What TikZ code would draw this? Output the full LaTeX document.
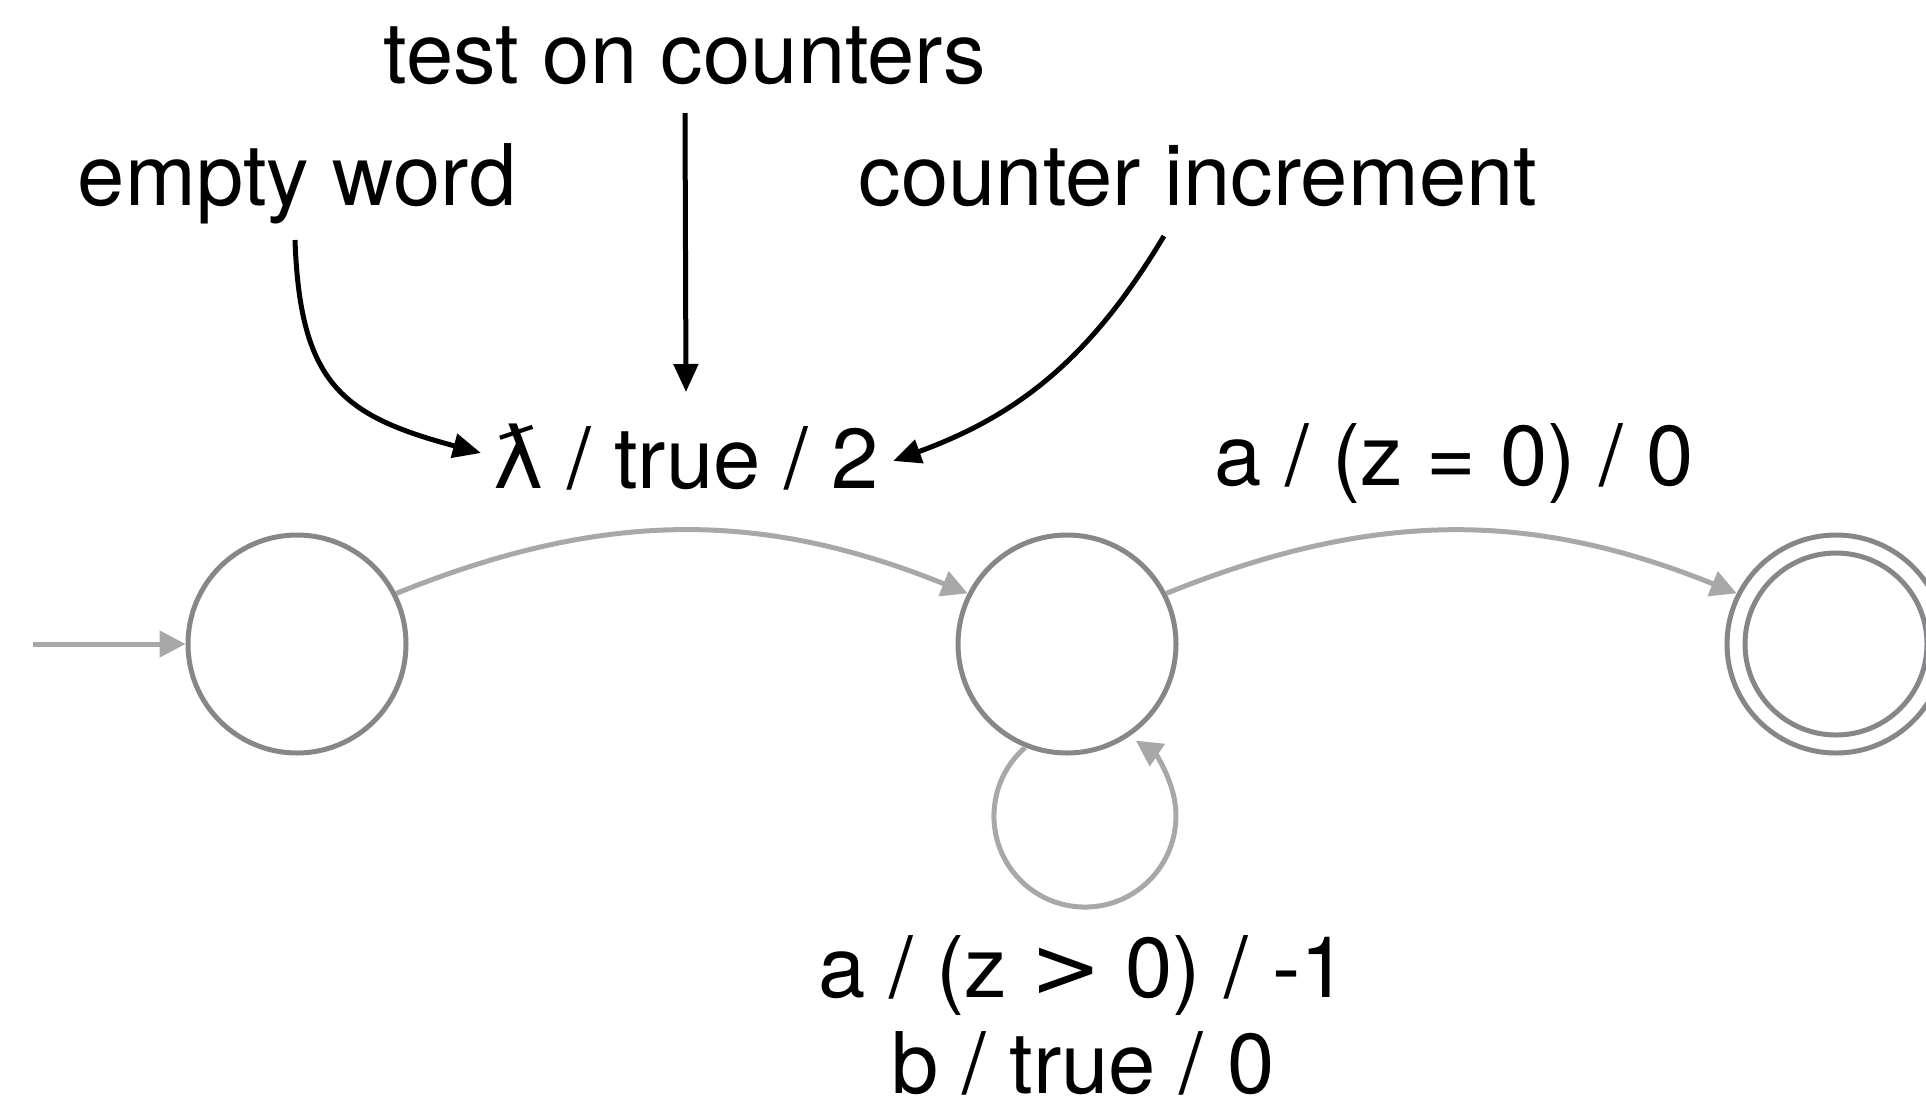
\documentclass[tikz,border=0pt]{standalone}
\usepackage{fontspec}
\setmainfont{TeX Gyre Heros}
\newfontfamily\lamfont{DejaVu Sans}
\usetikzlibrary{arrows.meta}
\definecolor{stategray}{HTML}{85878B}
\definecolor{edgegray}{HTML}{A6A9A7}
\tikzset{
  state/.style={circle, draw=stategray, line width=5pt, minimum size=218pt, inner sep=0pt},
  edge/.style={draw=edgegray, line width=5pt, -{Triangle[length=26pt,width=26pt]}},
  note/.style={draw=black, line width=5pt, -{Triangle[length=28pt,width=24pt]}},
  lbl/.style={inner sep=0pt, anchor=base}
}
\begin{document}
\begin{tikzpicture}[x=1pt,y=1pt,font=\fontsize{85}{96}\selectfont]
\useasboundingbox (0,0) rectangle (1926,-1112);
% states
\node[state] (s1) at (297,-644) {};
\node[state] (s2) at (1067,-644) {};
\node[state] (s3) at (1836,-644) {};
\draw[stategray, line width=5pt] (s3.center) circle[radius=91];
% transitions
\coordinate (init) at (33,-644);
\draw[edge] (init) -- (s1);
\draw[edge] (s1.27) to[out=22,in=158] (s2.153);
\draw[edge] (s2.27) to[out=22,in=158] (s3.153);
\draw[edge] (s2.-112) arc[start angle=131,end angle=416,radius=91];
% transition labels
\node[lbl] (l12) at (686,-488) {{\lamfont ƛ} / true / 2};
\node[lbl] (l23) at (1454,-485) {a / (z = 0) / 0};
\node[lbl, align=center] (l22) at (1083,-1093) {a / (z {\lamfont >} 0) / -1\\ b / true / 0};
% annotations
\node[lbl] (toc) at (685,-83) {test on counters};
\node[lbl] (ew) at (297,-205) {empty word};
\node[lbl] (ci) at (1198,-205) {counter increment};
\coordinate (tocS) at (685,-113);
\coordinate (tocE) at (686,-392);
\draw[note] (tocS) -- (tocE);
\coordinate (ewS) at (295,-240);
\coordinate (ewE) at (481,-453);
\draw[note] (ewS) to[out=-88,in=165,looseness=1.3] (ewE);
\coordinate (ciS) at (1164,-236);
\coordinate (ciE) at (893,-461);
\draw[note] (ciS) to[out=-121,in=20] (ciE);
\end{tikzpicture}
\end{document}
